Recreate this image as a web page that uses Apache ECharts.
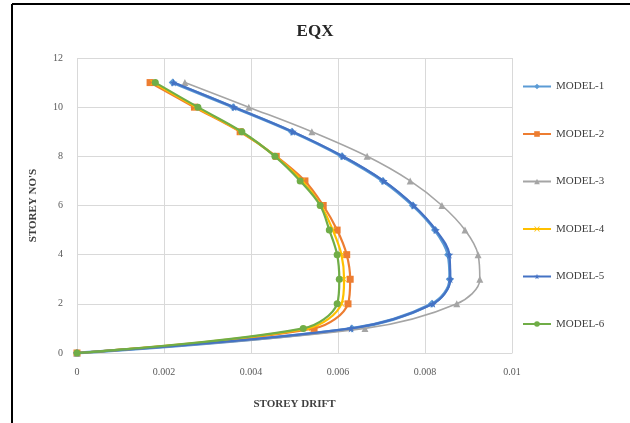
<!DOCTYPE html>
<html>
<head>
<meta charset="utf-8">
<script src="https://cdn.jsdelivr.net/npm/echarts@6/dist/echarts.min.js"></script>
<style>html,body{margin:0;padding:0;background:#fff;}#c{width:630px;height:423px;}</style>
</head>
<body>
<div id="c"></div>
<script>
const storeys = [0, 1, 2, 3, 4, 5, 6, 7, 8, 9, 10, 11];
const seriesNames = ['MODEL-1', 'MODEL-2', 'MODEL-3', 'MODEL-4', 'MODEL-5', 'MODEL-6'];
const model1 = [0, 0.00632, 0.00816, 0.00857, 0.00853, 0.00823, 0.00772, 0.00703, 0.00609, 0.00494, 0.00359, 0.00220];
const model2 = [0, 0.00545, 0.00623, 0.00628, 0.00620, 0.00598, 0.00566, 0.00524, 0.00458, 0.00375, 0.00270, 0.00168];
const model3 = [0, 0.00662, 0.00873, 0.00926, 0.00922, 0.00892, 0.00839, 0.00766, 0.00667, 0.00540, 0.00395, 0.00248];
const model4 = [0, 0.00530, 0.00608, 0.00614, 0.00608, 0.00588, 0.00561, 0.00518, 0.00456, 0.00377, 0.00274, 0.00175];
const model5 = [0, 0.00630, 0.00818, 0.00858, 0.00856, 0.00825, 0.00774, 0.00705, 0.00611, 0.00496, 0.00361, 0.00222];
const model6 = [0, 0.00520, 0.00598, 0.00603, 0.00598, 0.00580, 0.00559, 0.00513, 0.00455, 0.00379, 0.00278, 0.00180];
const xTicks = ['0', '0.002', '0.004', '0.006', '0.008', '0.01'];

const values = [model1, model2, model3, model4, model5, model6];
const colors = ['#5B9BD5', '#ED7D31', '#A5A5A5', '#FFC000', '#4472C4', '#70AD47'];
const symbols = [
  'diamond', 'rect', 'triangle',
  'path://M0,1L1,0L5,4L9,0L10,1L6,5L10,9L9,10L5,6L1,10L0,9L4,5Z',
  'path://M50,0L61,35L98,35L68,57L79,91L50,70L21,91L32,57L2,35L39,35Z',
  'circle'
];
const symbolSizes = [8, 7, 7, 6, 8, 7];
const lineWidths = [3, 2.2, 1.6, 2.2, 2.2, 2.2];
const serif = 'Liberation Serif';

const series = seriesNames.map((n, i) => ({
  name: n,
  type: 'line',
  smooth: 0.35,
  data: values[i].map((v, k) => [v, storeys[k]]),
  symbol: symbols[i],
  symbolSize: symbolSizes[i],
  showSymbol: true,
  itemStyle: { color: colors[i] },
  lineStyle: { color: colors[i], width: lineWidths[i] },
  emphasis: { disabled: true },
  z: 2 + i
}));

const chart = echarts.init(document.getElementById('c'), null, { renderer: 'canvas' });
chart.setOption({
  animation: false,
  backgroundColor: '#ffffff',
  title: {
    text: 'EQX',
    left: 'center',
    top: 18,
    textStyle: { fontFamily: serif, fontSize: 17, fontWeight: 'bold', color: '#262626' }
  },
  grid: { left: 77, right: 118, top: 58, bottom: 70 },
  legend: {
    orient: 'vertical',
    left: 517,
    top: 76,
    itemGap: 36.5,
    itemWidth: 28,
    itemHeight: 7,
    data: seriesNames,
    textStyle: { fontFamily: serif, fontSize: 11, color: '#404040' }
  },
  xAxis: {
    type: 'value',
    min: 0,
    max: 0.01,
    interval: 0.002,
    name: 'STOREY DRIFT',
    nameLocation: 'middle',
    nameGap: 46,
    nameTextStyle: { fontFamily: serif, fontSize: 11, fontWeight: 'bold', color: '#404040' },
    axisLine: { show: true, lineStyle: { color: '#D9D9D9' } },
    axisTick: { show: false },
    axisLabel: {
      fontFamily: serif, fontSize: 10, color: '#595959', margin: 14,
      formatter: (v) => xTicks[Math.round(v / 0.002)]
    },
    splitLine: { show: true, lineStyle: { color: '#D9D9D9' } }
  },
  yAxis: {
    type: 'value',
    min: 0,
    max: 12,
    interval: 2,
    name: "STOREY NO'S",
    nameLocation: 'middle',
    nameGap: 38,
    nameTextStyle: { fontFamily: serif, fontSize: 11, fontWeight: 'bold', color: '#404040' },
    axisLine: { show: false },
    axisTick: { show: false },
    axisLabel: { fontFamily: serif, fontSize: 10, color: '#595959', margin: 14 },
    splitLine: { show: true, lineStyle: { color: '#D9D9D9' } }
  },
  graphic: [
    { type: 'line', shape: { x1: 12, y1: 4, x2: 630, y2: 4 }, style: { stroke: '#000', lineWidth: 2 }, silent: true },
    { type: 'line', shape: { x1: 12, y1: 4, x2: 12, y2: 423 }, style: { stroke: '#000', lineWidth: 2 }, silent: true }
  ],
  series: series
});
</script>
</body>
</html>
